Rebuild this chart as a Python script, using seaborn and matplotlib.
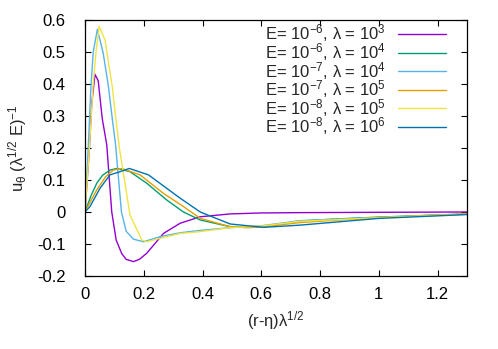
import numpy as np
import pandas as pd
import matplotlib
matplotlib.use("Agg")
import matplotlib.pyplot as plt
from matplotlib.ticker import FuncFormatter
import seaborn as sns

# data
x1 = [0, 0.015, 0.023, 0.034, 0.045, 0.053, 0.059, 0.074, 0.091, 0.106, 0.125, 0.14, 0.165, 0.185, 0.21, 0.267, 0.324, 0.392, 0.494, 0.6, 0.733, 1.0, 1.3]
y1 = [0, 0.2, 0.34, 0.43, 0.41, 0.34, 0.29, 0.21, 0.0, -0.0875, -0.13, -0.148, -0.155, -0.148, -0.129, -0.067, -0.035, -0.015, -0.006, -0.003, -0.002, -0.001, 0.0]

x2 = [0, 0.02, 0.04, 0.06, 0.085, 0.108, 0.153, 0.21, 0.278, 0.335, 0.392, 0.494, 0.551, 0.6, 0.733, 0.85, 1.0, 1.3]
y2 = [0, 0.05, 0.09, 0.115, 0.131, 0.136, 0.126, 0.09, 0.0375, 0.0, -0.025, -0.046, -0.048, -0.046, -0.028, -0.022, -0.016, -0.006]

x3 = [0, 0.011, 0.02, 0.028, 0.042, 0.062, 0.08, 0.093, 0.104, 0.124, 0.14, 0.165, 0.199, 0.256, 0.324, 0.386, 0.494, 0.6, 0.733, 1.0, 1.3]
y3 = [0, 0.2, 0.39, 0.5, 0.571, 0.496, 0.39, 0.29, 0.21, 0.0, -0.06, -0.085, -0.093, -0.077, -0.065, -0.058, -0.049, -0.043, -0.027, -0.017, -0.007]

x4 = [0, 0.02, 0.04, 0.07, 0.096, 0.125, 0.1875, 0.267, 0.335, 0.392, 0.494, 0.551, 0.6, 0.733, 1.0, 1.3]
y4 = [0, 0.035, 0.069, 0.11, 0.131, 0.136, 0.116, 0.058, 0.017, -0.02, -0.046, -0.049, -0.047, -0.033, -0.017, -0.006]

x5 = [0, 0.015, 0.027, 0.037, 0.048, 0.068, 0.093, 0.105, 0.117, 0.153, 0.193, 0.21, 0.256, 0.324, 0.386, 0.494, 0.6, 0.733, 1.0, 1.3]
y5 = [0, 0.2, 0.39, 0.496, 0.58, 0.5375, 0.39, 0.29, 0.2, -0.009, -0.0875, -0.093, -0.082, -0.067, -0.062, -0.049, -0.044, -0.029, -0.018, -0.007]

x6 = [0, 0.017, 0.051, 0.085, 0.119, 0.151, 0.216, 0.278, 0.324, 0.392, 0.494, 0.608, 0.733, 1.0, 1.3]
y6 = [0, 0.017, 0.074, 0.116, 0.126, 0.136, 0.116, 0.074, 0.043, 0.0, -0.0375, -0.048, -0.041, -0.02, -0.008]

labels = [
    r"E= 10$^{-6}$, λ = 10$^{3}$",
    r"E= 10$^{-6}$, λ = 10$^{4}$",
    r"E= 10$^{-7}$, λ = 10$^{4}$",
    r"E= 10$^{-7}$, λ = 10$^{5}$",
    r"E= 10$^{-8}$, λ = 10$^{5}$",
    r"E= 10$^{-8}$, λ = 10$^{6}$",
]
colors = ["#9400d3", "#009e73", "#56b4e9", "#e69f00", "#f0e442", "#0072b2"]

xs = [x1, x2, x3, x4, x5, x6]
ys = [y1, y2, y3, y4, y5, y6]
frames = []
for lab, x, y in zip(labels, xs, ys):
    frames.append(pd.DataFrame({"x": x, "y": y, "case": lab}))
df = pd.concat(frames, ignore_index=True)

sns.set_style("ticks")
plt.rcParams["font.family"] = ["Liberation Sans", "DejaVu Sans"]
plt.rcParams["mathtext.fontset"] = "custom"
plt.rcParams["mathtext.rm"] = "Liberation Sans"
plt.rcParams["mathtext.it"] = "Liberation Sans"
plt.rcParams["mathtext.default"] = "regular"
plt.rcParams["axes.unicode_minus"] = False

FS = 12

fig = plt.figure(figsize=(4.98, 3.49), dpi=100)
ax = fig.add_axes([0.1707, 0.2092, 0.9378 - 0.1707, 0.9427 - 0.2092])

sns.lineplot(data=df, x="x", y="y", hue="case", palette=colors,
             estimator=None, sort=False, linewidth=1.0, ax=ax)

ax.set_xlim(0, 1.3)
ax.set_ylim(-0.2, 0.6)
ax.set_xticks([0, 0.2, 0.4, 0.6, 0.8, 1.0, 1.2])
ax.set_yticks([-0.2, -0.1, 0, 0.1, 0.2, 0.3, 0.4, 0.5, 0.6])
fmt = FuncFormatter(lambda v, p: f"{v:g}" if abs(v) > 1e-9 else "0")
ax.xaxis.set_major_formatter(fmt)
ax.yaxis.set_major_formatter(fmt)
ax.tick_params(direction="in", length=4, width=0.8, top=True, right=True,
               labelsize=FS, colors="black")
ax.tick_params(axis="x", pad=8)
ax.tick_params(axis="y", pad=14)
for s in ax.spines.values():
    s.set_linewidth(0.9)
    s.set_color("black")

ax.set_xlabel(r"(r-η)λ$^{1/2}$", fontsize=FS, labelpad=5)
ax.set_ylabel(r"u$_θ$ (λ$^{1/2}$ E)$^{-1}$", fontsize=FS, labelpad=6)

leg = ax.legend(loc="upper right", bbox_to_anchor=(0.963, 1.016), frameon=False,
                markerfirst=False, fontsize=FS, handlelength=2.9,
                labelspacing=-0.2, borderaxespad=0.0, handletextpad=0.7)

fig.savefig("out.png", dpi=100)
